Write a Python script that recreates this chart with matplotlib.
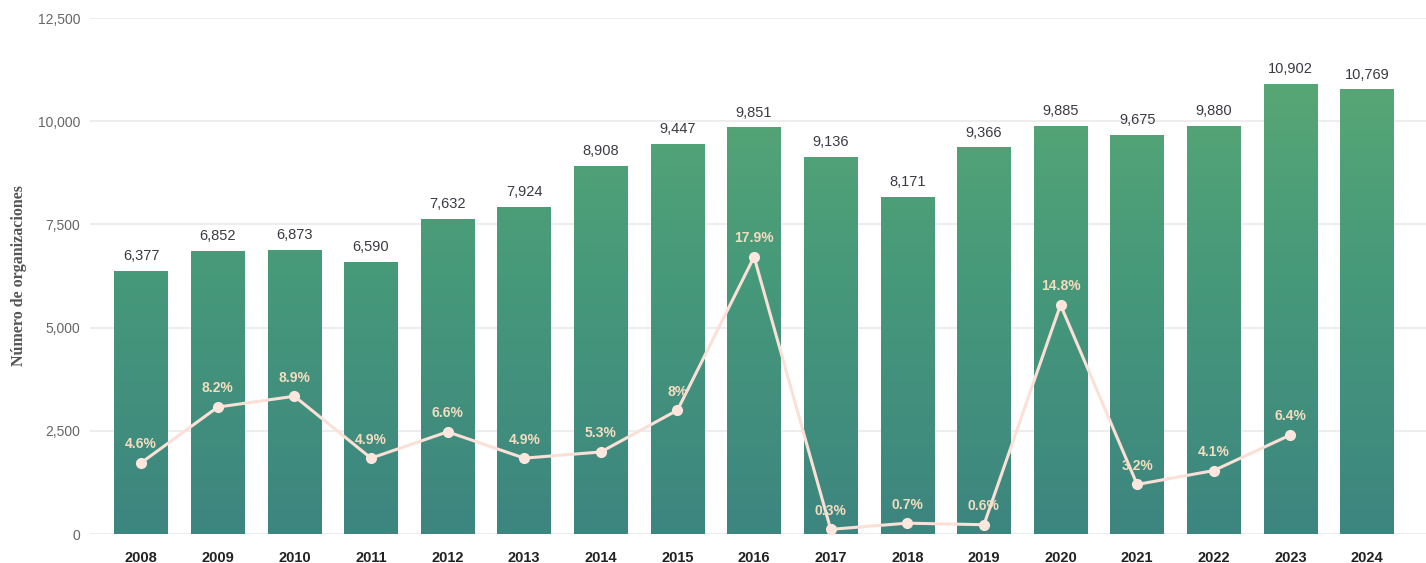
import numpy as np
import matplotlib
matplotlib.use("Agg")
import matplotlib.pyplot as plt
from matplotlib.colors import LinearSegmentedColormap

plt.rcParams['font.family'] = ['Liberation Sans', 'DejaVu Sans']

## Data ##
years = ['2008', '2009', '2010', '2011', '2012', '2013', '2014', '2015', '2016',
         '2017', '2018', '2019', '2020', '2021', '2022', '2023', '2024']
orgs = [6377, 6852, 6873, 6590, 7632, 7924, 8908, 9447, 9851,
        9136, 8171, 9366, 9885, 9675, 9880, 10902, 10769]
growth = [4.6, 8.2, 8.9, 4.9, 6.6, 4.9, 5.3, 8, 17.9,
          0.3, 0.7, 0.6, 14.8, 3.2, 4.1, 6.4]
growth_labels = ['4.6%', '8.2%', '8.9%', '4.9%', '6.6%', '4.9%', '5.3%', '8%', '17.9%',
                 '0.3%', '0.7%', '0.6%', '14.8%', '3.2%', '4.1%', '6.4%']

fig = plt.figure(figsize=(14.26, 5.63), dpi=100)
ax = fig.add_axes([0.063, 0.0515, 0.937, 0.9165])

x = np.arange(len(years))
bars = ax.bar(x, orgs, width=0.7, color='none', edgecolor='none', zorder=2)

# gradient fill for each bar
cmap = LinearSegmentedColormap.from_list('g', ['#3d8580', '#46997a', '#5dab74'])
grad = np.linspace(0, 1, 256).reshape(-1, 1)
for b in bars:
    x0, w, h = b.get_x(), b.get_width(), b.get_height()
    im = ax.imshow(grad, cmap=cmap, aspect='auto', origin='lower',
                   extent=(x0, x0 + w, 0, 12500), vmin=0, vmax=1, zorder=2)
    im.set_clip_path(b)
    ax.text(x0 + w / 2, h + 190, f'{h:,}', ha='center', va='bottom',
            fontsize=10.5, color='#3a3a44', zorder=4)

ax.set_xlim(-0.67, 16.77)
ax.set_ylim(0, 12500)
ax.set_yticks([0, 2500, 5000, 7500, 10000, 12500])
ax.set_yticklabels(['0', '2,500', '5,000', '7,500', '10,000', '12,500'])
ax.set_xticks(x)
ax.set_xticklabels(years, fontweight='bold', fontsize=10.5, color='#222222')
ax.tick_params(axis='y', length=0, labelsize=10, labelcolor='#666666', pad=7)
ax.tick_params(axis='x', length=0, pad=12)
ax.grid(axis='y', color='#ececec', linewidth=1.3, zorder=0)
ax.set_axisbelow(True)
for s in ax.spines.values():
    s.set_visible(False)

ax.set_ylabel('Número de organizaciones', family=['Liberation Serif', 'DejaVu Serif'],
              fontweight='bold', fontsize=11.5, color='#555555')
ax.yaxis.set_label_coords(-0.047, 0.5)

# growth line on hidden secondary axis
ax2 = ax.twinx()
ax2.set_ylim(0, 12500 / 375)
ax2.plot(x[:len(growth)], growth, color='#fbe0d8', linewidth=2.2, marker='o',
         markersize=7, markerfacecolor='#fde6de', markeredgecolor='#fde6de', zorder=3)
for xi, g, lab in zip(x, growth, growth_labels):
    ax2.text(xi, g + 0.75, lab, ha='center', va='bottom', fontsize=10,
             fontweight='bold', color='#f3dcc0', zorder=4)
ax2.axis('off')

fig.savefig('out.png', dpi=100)
